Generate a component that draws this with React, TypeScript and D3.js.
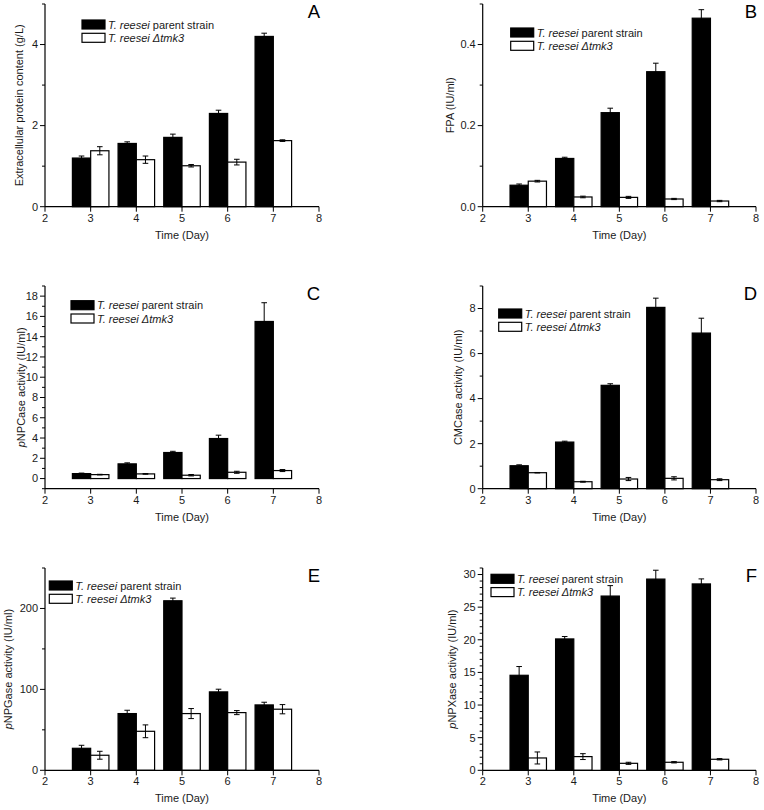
import { useRef, useEffect } from 'react';
import * as d3 from 'd3';

// days on the x axis
const days = [3, 4, 5, 6, 7];

// A - extracellular protein (g/L)
const proteinParent = [1.2, 1.56, 1.71, 2.3, 4.2];
const proteinParentErr = [0.05, 0.04, 0.08, 0.08, 0.08];
const proteinMutant = [1.38, 1.16, 1.01, 1.1, 1.63];
const proteinMutantErr = [0.1, 0.09, 0.03, 0.07, 0.02];

// B - FPA
const fpaParent = [0.053, 0.119, 0.232, 0.333, 0.465];
const fpaParentErr = [0.003, 0.003, 0.011, 0.021, 0.021];
const fpaMutant = [0.063, 0.024, 0.023, 0.019, 0.014];
const fpaMutantErr = [0.002, 0.002, 0.0025, 0.0015, 0.0016];

// C - pNPCase
const pnpcParent = [0.49, 1.45, 2.57, 3.95, 15.5];
const pnpcParentErr = [0.05, 0.1, 0.12, 0.33, 1.85];
const pnpcMutant = [0.39, 0.46, 0.33, 0.62, 0.79];
const pnpcMutantErr = [0.03, 0.03, 0.07, 0.1, 0.1];

// D - CMCase
const cmcParent = [1.02, 2.07, 4.59, 8.05, 6.91];
const cmcParentErr = [0.04, 0.04, 0.07, 0.41, 0.66];
const cmcMutant = [0.71, 0.31, 0.43, 0.46, 0.4];
const cmcMutantErr = [0.01, 0.02, 0.07, 0.07, 0.04];

// E - pNPGase
const pnpgParent = [27.2, 70.1, 209.5, 96.9, 80.8];
const pnpgParentErr = [3.7, 4.1, 3.3, 3.3, 3.3];
const pnpgMutant = [18.6, 48.2, 70.1, 71.3, 75.5];
const pnpgMutantErr = [4.9, 7.9, 6.2, 2.5, 5.7];

// F - pNPXase
const pnpxParent = [14.56, 20.13, 26.7, 29.3, 28.56];
const pnpxParentErr = [1.34, 0.37, 1.6, 1.36, 0.77];
const pnpxMutant = [1.89, 2.1, 1.07, 1.23, 1.69];
const pnpxMutantErr = [0.92, 0.45, 0.16, 0.1, 0.1];

const xTicks = [2, 3, 4, 5, 6, 7, 8];

interface PanelSpec {
    letter: string;
    col: number;
    row: number;
    yDomain: [number, number];
    majors: number[];
    minors: number[];
    fmt: (v: number) => string;
    titlePrefix: string;
    title: string;
    titleOffset: number;
    legend: [number, number];
    parent: number[];
    parentErr: number[];
    mutant: number[];
    mutantErr: number[];
}

const range = (a: number, b: number, s: number) => d3.range(a, b + s / 2, s);

const panels: PanelSpec[] = [
    {
        letter: 'A', col: 0, row: 0, yDomain: [0, 5],
        majors: [0, 2, 4], minors: [1, 3, 5], fmt: d3.format('d'),
        titlePrefix: '', title: 'Extracellular protein content (g/L)', titleOffset: 22,
        legend: [37, 16],
        parent: proteinParent, parentErr: proteinParentErr, mutant: proteinMutant, mutantErr: proteinMutantErr
    },
    {
        letter: 'B', col: 1, row: 0, yDomain: [0, 0.5],
        majors: [0, 0.2, 0.4], minors: [0.1, 0.3, 0.5], fmt: d3.format('.1f'),
        titlePrefix: '', title: 'FPA (IU/ml)', titleOffset: 29,
        legend: [28, 24],
        parent: fpaParent, parentErr: fpaParentErr, mutant: fpaMutant, mutantErr: fpaMutantErr
    },
    {
        letter: 'C', col: 0, row: 1, yDomain: [-1, 19],
        majors: range(0, 18, 2), minors: range(-1, 19, 2), fmt: d3.format('d'),
        titlePrefix: 'p', title: 'NPCase activity (IU/ml)', titleOffset: 20,
        legend: [26, 14.7],
        parent: pnpcParent, parentErr: pnpcParentErr, mutant: pnpcMutant, mutantErr: pnpcMutantErr
    },
    {
        letter: 'D', col: 1, row: 1, yDomain: [0, 9],
        majors: [0, 2, 4, 6, 8], minors: [1, 3, 5, 7, 9], fmt: d3.format('d'),
        titlePrefix: '', title: 'CMCase activity (IU/ml)', titleOffset: 21,
        legend: [16, 23],
        parent: cmcParent, parentErr: cmcParentErr, mutant: cmcMutant, mutantErr: cmcMutantErr
    },
    {
        letter: 'E', col: 0, row: 2, yDomain: [0, 250],
        majors: [0, 100, 200], minors: [50, 150, 250], fmt: d3.format('d'),
        titlePrefix: 'p', title: 'NPGase activity (IU/ml)', titleOffset: 33,
        legend: [4.3, 13],
        parent: pnpgParent, parentErr: pnpgParentErr, mutant: pnpgMutant, mutantErr: pnpgMutantErr
    },
    {
        letter: 'F', col: 1, row: 2, yDomain: [0, 31],
        majors: range(0, 30, 5), minors: range(1, 31, 1).filter(v => v % 5 !== 0), fmt: d3.format('d'),
        titlePrefix: 'p', title: 'NPXase activity (IU/ml)', titleOffset: 27,
        legend: [8.3, 6.3],
        parent: pnpxParent, parentErr: pnpxParentErr, mutant: pnpxMutant, mutantErr: pnpxMutantErr
    }
];

const colX: [number, number][] = [[45, 319], [482.7, 756]];
const rowY: [number, number][] = [[4, 206.7], [286, 488.7], [568, 770.3]];

const FONT = '"Liberation Sans", Arial, sans-serif';
const INK = '#1a1a1a';

export default function App() {
    const svgRef = useRef<SVGSVGElement>(null);

    useEffect(() => {
        const svgEl = svgRef.current;
        if (!svgEl) return;
        const svg = d3.select(svgEl);
        svg.selectAll('*').remove();

        panels.forEach(p => {
            const [x0, x1] = colX[p.col];
            const [top, bottom] = rowY[p.row];
            const x = d3.scaleLinear().domain([2, 8]).range([x0, x1]);
            const y = d3.scaleLinear().domain(p.yDomain).range([bottom, top]);
            const g = svg.append('g').style('font-family', FONT);
            const base = y(Math.max(0, p.yDomain[0]));
            const barW = 0.4;

            // bars
            const series = [
                { vals: p.parent, errs: p.parentErr, fill: '#000', off: -barW },
                { vals: p.mutant, errs: p.mutantErr, fill: '#fff', off: 0 }
            ];
            series.forEach(s => {
                g.selectAll(null)
                    .data(days)
                    .enter()
                    .append('rect')
                    .attr('x', (d) => x(d + s.off))
                    .attr('width', x(2 + barW) - x(2))
                    .attr('y', (_, i) => y(s.vals[i]))
                    .attr('height', (_, i) => base - y(s.vals[i]))
                    .attr('fill', s.fill)
                    .attr('stroke', '#000')
                    .attr('stroke-width', 1.2);

                // error bars
                days.forEach((d, i) => {
                    const cx = x(d + s.off + barW / 2);
                    const yHi = y(s.vals[i] + s.errs[i]);
                    const yLo = y(s.vals[i] - s.errs[i]);
                    g.append('line').attr('x1', cx).attr('x2', cx).attr('y1', yHi).attr('y2', yLo)
                        .attr('stroke', '#000').attr('stroke-width', 1);
                    [yHi, yLo].forEach(yy => {
                        g.append('line').attr('x1', cx - 2.8).attr('x2', cx + 2.8).attr('y1', yy).attr('y2', yy)
                            .attr('stroke', '#000').attr('stroke-width', 1);
                    });
                });
            });

            // x axis
            g.append('line').attr('x1', x0).attr('x2', x1).attr('y1', bottom).attr('y2', bottom)
                .attr('stroke', '#000').attr('stroke-width', 1.2);
            xTicks.forEach(t => {
                g.append('line').attr('x1', x(t)).attr('x2', x(t)).attr('y1', bottom).attr('y2', bottom + 5)
                    .attr('stroke', '#000').attr('stroke-width', 1);
                g.append('text').attr('x', x(t)).attr('y', bottom + 15).attr('text-anchor', 'middle')
                    .style('font-size', '11px').attr('fill', INK).text(t);
            });
            g.append('text').attr('x', (x0 + x1) / 2).attr('y', bottom + 32).attr('text-anchor', 'middle')
                .style('font-size', '11px').attr('fill', INK).text('Time (Day)');

            // y axis
            g.append('line').attr('x1', x0).attr('x2', x0).attr('y1', bottom).attr('y2', top)
                .attr('stroke', '#000').attr('stroke-width', 1.2);
            p.majors.forEach(t => {
                g.append('line').attr('x1', x0 - 5).attr('x2', x0).attr('y1', y(t)).attr('y2', y(t))
                    .attr('stroke', '#000').attr('stroke-width', 1);
                g.append('text').attr('x', x0 - 7).attr('y', y(t)).attr('dy', '0.35em').attr('text-anchor', 'end')
                    .style('font-size', '11px').attr('fill', INK).text(p.fmt(t));
            });
            p.minors.forEach(t => {
                g.append('line').attr('x1', x0 - 3).attr('x2', x0).attr('y1', y(t)).attr('y2', y(t))
                    .attr('stroke', '#000').attr('stroke-width', 1);
            });
            const title = g.append('text')
                .attr('transform', `translate(${x0 - p.titleOffset},${(top + bottom) / 2}) rotate(-90)`)
                .attr('text-anchor', 'middle')
                .style('font-size', '11px').attr('fill', INK);
            if (p.titlePrefix) title.append('tspan').style('font-style', 'italic').text(p.titlePrefix);
            title.append('tspan').text(p.title);

            // legend
            const lx = x0 + p.legend[0];
            const ly = top + p.legend[1];
            const items = [
                { fill: '#000', parts: [['T. reesei', true], [' parent strain', false]] },
                { fill: '#fff', parts: [['T. reesei \u0394tmk3', true]] }
            ];
            items.forEach((it, i) => {
                const yy = ly + i * 13.3;
                g.append('rect').attr('x', lx).attr('y', yy).attr('width', 23).attr('height', 9)
                    .attr('fill', it.fill).attr('stroke', '#000').attr('stroke-width', 1.2);
                const t = g.append('text').attr('x', lx + 26).attr('y', yy + 8.6)
                    .style('font-size', '11px').attr('fill', INK);
                it.parts.forEach(([s, ital]) => {
                    t.append('tspan').style('font-style', ital ? 'italic' : 'normal').text(s as string);
                });
            });

            // panel letter
            g.append('text').attr('x', x1 + 1).attr('y', top + 14.3).attr('text-anchor', 'end')
                .style('font-size', '18.5px').attr('fill', '#000').text(p.letter);
        });

        return () => {
            svg.selectAll('*').remove();
        };
    }, []);

    return (
        <div style={{ position: 'absolute', left: 0, top: 0 }}>
            <svg ref={svgRef} width={764} height={810} style={{ display: 'block', background: '#fff' }} />
        </div>
    );
}
